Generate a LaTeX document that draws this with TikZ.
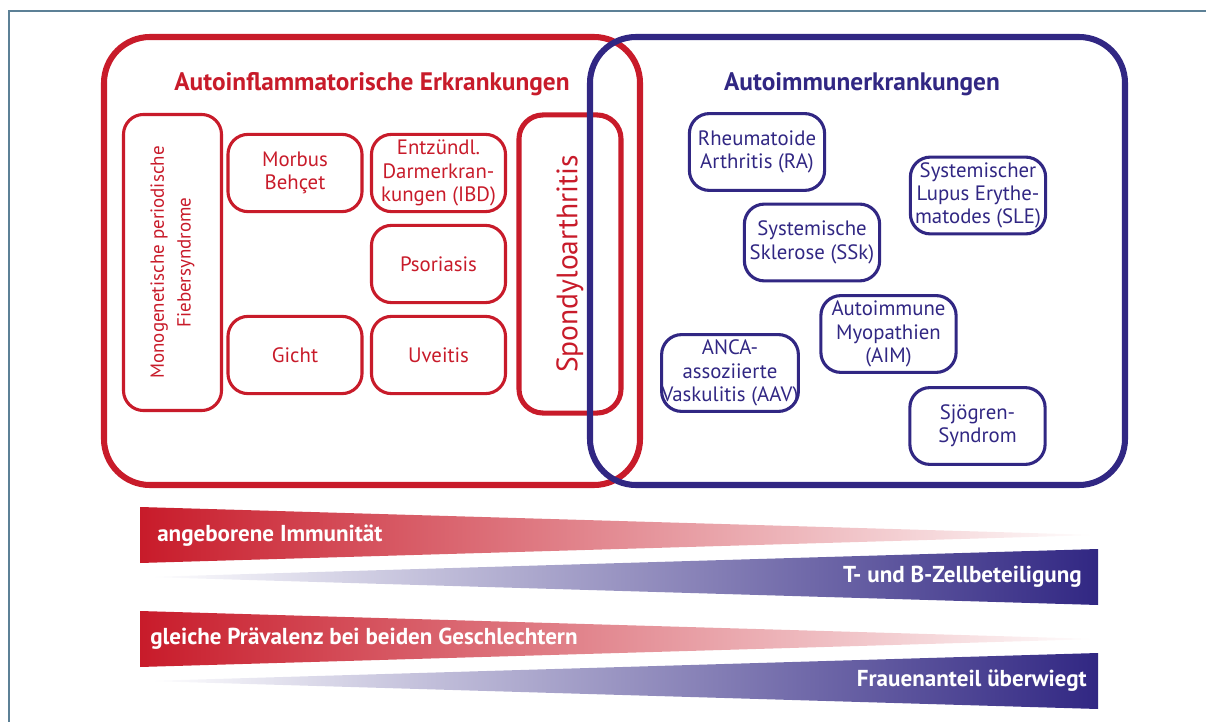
\documentclass[tikz,border=0pt]{standalone}
\usepackage{fontspec}
\setmainfont{PT Sans}
\usetikzlibrary{positioning}
\definecolor{afred}{RGB}{200,27,42}
\definecolor{afsalmon}{RGB}{222,122,100}
\definecolor{aiblue}{RGB}{49,39,131}
\definecolor{framegray}{RGB}{92,128,150}

\tikzset{
  boxfont/.style={font=\fontsize{14.8}{16.6}\selectfont},
  redbox/.style={draw=afred, line width=2.2pt, rounded corners=0.5cm, text=afred,
    align=center, inner sep=0pt, boxfont, minimum width=3.35cm, minimum height=1.93cm},
  bluebox/.style={draw=aiblue, line width=2.2pt, rounded corners=0.5cm, text=aiblue,
    align=center, inner sep=0pt, boxfont, minimum width=3.38cm, minimum height=1.92cm},
  grouptitle/.style={font=\bfseries\fontsize{18}{20}\selectfont, inner sep=0pt},
  bartext/.style={text=white, font=\bfseries\fontsize{16.4}{18}\selectfont, inner sep=0pt},
}

\begin{document}
\begin{tikzpicture}[x=0.025cm, y=-0.025cm]
        \useasboundingbox (0,0) rectangle (1206,722);

        % Frame
        \draw[framegray, line width=0.9pt] (9,722) -- (9,11) -- (1206,11);

        % Autoinflammatory group
        \draw[afred, line width=4.3pt, rounded corners=1.15cm] (104,37) rectangle (640,485);
        \node[grouptitle, text=afred] (aftitle) at (372,84) {Autoinflammatorische Erkrankungen};

        \node[redbox, rotate=90, minimum width=7.4cm, minimum height=2.45cm,
              font=\fontsize{13.5}{19}\selectfont] (fieber) at (172.5,262.5)
              {Monogenetische periodische\\Fiebersyndrome};
        \node[redbox] (behcet) at (295,173) {Morbus\\Behçet};
        \node[redbox] (ibd) at (438.5,173) {Entzündl.\\Darmerkran-\\kungen (IBD)};
        \node[redbox] (psoriasis) at (438.5,264) {Psoriasis};
        \node[redbox] (gicht) at (295,355) {Gicht};
        \node[redbox] (uveitis) at (438.5,355) {Uveitis};

        % Overlap
        \node[redbox, rotate=90, line width=3.6pt, rounded corners=0.6cm,
              minimum width=7.45cm, minimum height=2.55cm,
              font=\fontsize{21}{24}\selectfont] (spondylo) at (570,264) {Spondyloarthritis};

        % Autoimmune group
        \draw[aiblue, line width=4.3pt, rounded corners=1.15cm] (590,37) rectangle (1125,485);
        \node[grouptitle, text=aiblue] (aititle) at (862,84) {Autoimmunerkrankungen};

        \node[bluebox] (ra) at (757,152) {Rheumatoide\\Arthritis (RA)};
        \node[bluebox] (sle) at (978,195.5) {Systemischer\\Lupus Erythe-\\matodes (SLE)};
        \node[bluebox] (ssk) at (812,242.5) {Systemische\\Sklerose (SSk)};
        \node[bluebox] (aim) at (888.5,334) {Autoimmune\\Myopathien\\(AIM)};
        \node[bluebox] (aav) at (730,373) {ANCA-\\assoziierte\\Vaskulitis (AAV)};
        \node[bluebox] (sjoegren) at (977.5,426) {Sjögren-\\Syndrom};

        % Gradient bars
        \foreach \dy in {0,104} {
            \shade[left color=afred, middle color=afsalmon, right color=white]
                (140,507+\dy) -- (1098,535+\dy) -- (140,563+\dy) -- cycle;
            \shade[left color=white, right color=aiblue]
                (147,577+\dy) -- (1098,549+\dy) -- (1098,605+\dy) -- cycle;
        }
        \node[bartext, anchor=west] (innate) at (157,536) {angeborene Immunität};
        \node[bartext, anchor=east] (tbcell) at (1082,577) {T- und B-Zellbeteiligung};
        \node[bartext, anchor=west] (equal) at (150,639) {gleiche Prävalenz bei beiden Geschlechtern};
        \node[bartext, anchor=east] (women) at (1087,681) {Frauenanteil überwiegt};
\end{tikzpicture}
\end{document}
